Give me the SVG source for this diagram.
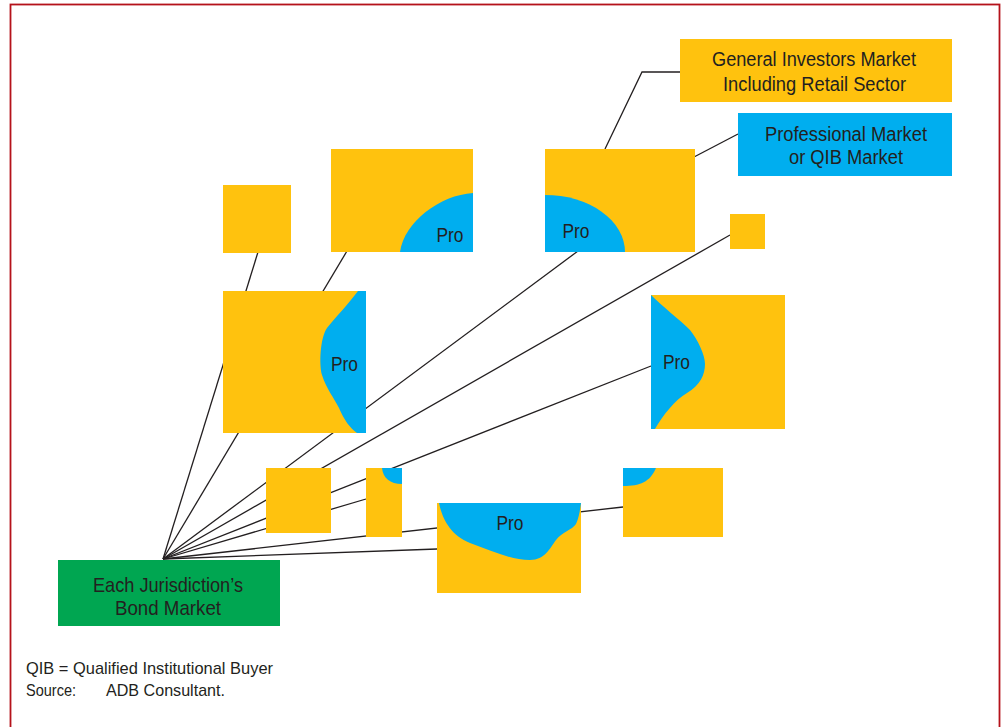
<svg xmlns="http://www.w3.org/2000/svg" width="1001" height="727" viewBox="0 0 1001 727">
<style>
.y{fill:#FFC20E}
.b{fill:#00AEEF}
.g{fill:#00A651}
.t{font-family:"Liberation Sans",Arial,sans-serif;fill:#231F20;font-size:20px}
.p{font-family:"Liberation Sans",Arial,sans-serif;fill:#231F20;font-size:21px}
.f{font-family:"Liberation Sans",Arial,sans-serif;fill:#231F20;font-size:17px}
.c line,.c polyline{stroke:#231F20;stroke-width:1.3;fill:none}
</style>
<rect x="0" y="0" width="1001" height="727" fill="#fff"/>
<rect x="10.5" y="4.5" width="989" height="740" fill="none" stroke="#B5121B" stroke-width="1.8"/>
<g id="connectors" class="c">
<line x1="163" y1="559" x2="258" y2="252"/>
<line x1="163" y1="559" x2="347" y2="251"/>
<line x1="163" y1="559" x2="578" y2="251"/>
<line x1="163" y1="559" x2="730" y2="235"/>
<line x1="163" y1="559" x2="651" y2="366"/>
<line x1="163" y1="559" x2="366" y2="499"/>
<line x1="163" y1="559" x2="623" y2="507"/>
<line x1="163" y1="559" x2="437" y2="549"/>
<polyline points="605,149 642,72 680,72"/>
<line x1="694" y1="157" x2="738" y2="134"/>
</g>
<g id="n-small-top">
<rect class="y" x="223" y="185" width="68" height="68"/>
</g>
<g id="n-square2">
<rect class="y" x="331" y="149" width="142" height="103"/>
<path class="b" d="M400,252 C404,222 440,195 473,193 L473,252 Z"/>
<text class="p" x="450" y="242" text-anchor="middle" textLength="27" lengthAdjust="spacingAndGlyphs">Pro</text>
</g>
<g id="n-box3">
<rect class="y" x="545" y="149" width="150" height="103"/>
<path class="b" d="M545,195 A80,57 0 0 1 625,252 L545,252 Z"/>
<text class="p" x="576" y="238" text-anchor="middle" textLength="27" lengthAdjust="spacingAndGlyphs">Pro</text>
</g>
<g id="n-tiny">
<rect class="y" x="730" y="214" width="35" height="35"/>
</g>
<g id="n-big">
<rect class="y" x="223" y="291" width="143" height="142"/>
<path class="b" d="M358,291 C350,302 335,318 327,328 C320,338 319,365 322,375 C326,388 334,398 339,408 C344,420 350,428 357,433 L366,433 L366,291 Z"/>
<text class="p" x="344.5" y="371" text-anchor="middle" textLength="27" lengthAdjust="spacingAndGlyphs">Pro</text>
</g>
<g id="n-proleft">
<rect class="y" x="651" y="295" width="134" height="134"/>
<path class="b" d="M651,295 C662,306 680,320 690,330 C698,340 705,355 705,364 C705,375 700,385 687,393 C675,400 663,415 655,429 L651,429 Z"/>
<text class="p" x="676.5" y="369" text-anchor="middle" textLength="27" lengthAdjust="spacingAndGlyphs">Pro</text>
</g>
<g id="n-small-bottom">
<rect class="y" x="266" y="468" width="65" height="65"/>
</g>
<g id="n-narrow">
<rect class="y" x="366" y="468" width="36" height="69"/>
<path class="b" d="M382,468 C383,478 390,484 402,484 L402,468 Z"/>
</g>
<g id="n-bottom-pro">
<rect class="y" x="437" y="503" width="144" height="90"/>
<path class="b" d="M439,503 C442,518 450,535 470,543 C490,550 510,560 530,560 C545,560 550,548 556,540 C562,532 572,530 576,524 C579,518 580,510 581,503 Z"/>
<text class="p" x="510" y="530" text-anchor="middle" textLength="27" lengthAdjust="spacingAndGlyphs">Pro</text>
</g>
<g id="n-right">
<rect class="y" x="623" y="468" width="100" height="69"/>
<path class="b" d="M623,486 C640,486 650,482 656,468 L623,468 Z"/>
</g>
<g id="n-general">
<rect class="y" x="680" y="39" width="272" height="63"/>
<text class="t" x="814" y="66" text-anchor="middle" textLength="204" lengthAdjust="spacingAndGlyphs">General Investors Market</text>
<text class="t" x="814.5" y="91" text-anchor="middle" textLength="183" lengthAdjust="spacingAndGlyphs">Including Retail Sector</text>
</g>
<g id="n-professional">
<rect class="b" x="738" y="113" width="214" height="63"/>
<text class="t" x="846" y="141" text-anchor="middle" textLength="162" lengthAdjust="spacingAndGlyphs">Professional Market</text>
<text class="t" x="846" y="164" text-anchor="middle" textLength="114" lengthAdjust="spacingAndGlyphs">or QIB Market</text>
</g>
<g id="n-bond">
<rect class="g" x="58" y="560" width="222" height="66"/>
<text class="p" x="168" y="592" text-anchor="middle" textLength="150" lengthAdjust="spacingAndGlyphs">Each Jurisdiction’s</text>
<text class="p" x="168" y="615" text-anchor="middle" textLength="106" lengthAdjust="spacingAndGlyphs">Bond Market</text>
</g>
<g id="footer">
<text class="f" x="26" y="674" textLength="247" lengthAdjust="spacingAndGlyphs">QIB = Qualified Institutional Buyer</text>
<text class="f" x="26" y="696" textLength="50" lengthAdjust="spacingAndGlyphs">Source:</text>
<text class="f" x="106" y="696" textLength="119" lengthAdjust="spacingAndGlyphs">ADB Consultant.</text>
</g>
</svg>
